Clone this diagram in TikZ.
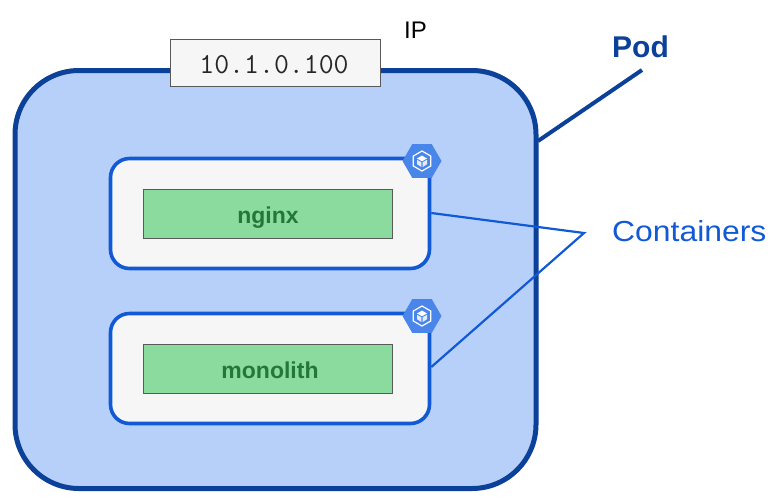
\documentclass[tikz,border=0pt]{standalone}
\usepackage{fontspec}
\setmainfont{Liberation Sans}
\usetikzlibrary{shapes.geometric}
\definecolor{poddark}{HTML}{0B4199}
\definecolor{podfill}{HTML}{B7D0F9}
\definecolor{contblue}{HTML}{1259D6}
\definecolor{contfill}{HTML}{F6F6F6}
\definecolor{appfill}{HTML}{8BDB9E}
\definecolor{apptext}{HTML}{23773A}
\definecolor{hexblue}{HTML}{4A86EA}
\tikzset{
  px/.style={x=1pt,y=-1pt},
  podbox/.style={draw=poddark,fill=podfill,line width=5pt,rounded corners=64pt,minimum width=521pt,minimum height=418pt,inner sep=0pt},
  contbox/.style={draw=contblue,fill=contfill,line width=3.6pt,rounded corners=19pt,minimum width=319pt,minimum height=110pt,inner sep=0pt},
  appbox/.style={draw=black!65,fill=appfill,line width=.8pt,minimum width=249pt,minimum height=49pt,inner sep=0pt},
  apptxt/.style={inner sep=0pt,text=apptext,font=\bfseries\fontsize{23}{26}\selectfont},
  ipbox/.style={draw=black!65,fill=contfill,line width=.9pt,minimum width=210pt,minimum height=47pt,inner sep=0pt},
  lab/.style={inner sep=0pt,anchor=base west},
  hex/.style={regular polygon,regular polygon sides=6,shape border rotate=0,fill=hexblue,draw=none,minimum size=39pt,inner sep=0pt},
  hexin/.style={regular polygon,regular polygon sides=6,shape border rotate=30,draw=white,line width=1.2pt,minimum size=20pt,inner sep=0pt},
  conline/.style={draw=contblue,line width=2.2pt},
  podline/.style={draw=poddark,line width=4pt}
}
\newcommand{\cubeicon}[2]{%
  \fill[white] (#1-5,#2-2.5) -- (#1,#2-5.5) -- (#1+5,#2-2.5) -- (#1,#2+.2) -- cycle;
  \fill[white,opacity=.85] (#1-5,#2-1.2) -- (#1-.6,#2+1.2) -- (#1-.6,#2+6) -- (#1-5,#2+3.2) -- cycle;
  \fill[white,opacity=.85] (#1+5,#2-1.2) -- (#1+.6,#2+1.2) -- (#1+.6,#2+6) -- (#1+5,#2+3.2) -- cycle;
}
\begin{document}
\begin{tikzpicture}[px]
\useasboundingbox (0,0) rectangle (778,501);
\node[podbox] (pod) at (275.5,279.5) {};
\node[ipbox] (ip) at (275.5,62.5) {};
\node[inner sep=0pt,anchor=base,font=\ttfamily\fontsize{29}{32}\selectfont,text=black!85] (iptxt) at (274,73) {10.1.0.100};
\node[lab,font=\fontsize{24}{28}\selectfont] (iplab) at (404,38) {IP};
\node[contbox] (c1) at (270,213.5) {};
\node[contbox] (c2) at (270,368.5) {};
\node[appbox] (nginx) at (268,214) {};
\node[appbox] (mono) at (268,369) {};
\node[apptxt,anchor=base] (nginxt) at (268,223) {nginx};
\node[apptxt,anchor=base] (monot) at (270,378) {monolith};
\node[hex] (h1) at (422,161) {};
\node[hex] (h2) at (422,316) {};
\node[hexin] (i1) at (422,161) {};
\node[hexin] (i2) at (422,316) {};
\cubeicon{422}{161}
\cubeicon{422}{316}
\node[lab,text=poddark,font=\bfseries\fontsize{30}{34}\selectfont] (podlab) at (612,57) {Pod};
\node[lab,text=contblue,font=\fontsize{29}{34}\selectfont\addfontfeature{FakeStretch=1.1}] (contlab) at (612,241) {Containers};
\coordinate (podtip) at (642,70);
\coordinate (podfoot) at (538,141);
\coordinate (join) at (584,233);
\draw[podline] (podfoot) -- (podtip);
\draw[conline] (c1.east |- 0,213) -- (join) -- (c2.east |- 0,367);
\end{tikzpicture}
\end{document}
